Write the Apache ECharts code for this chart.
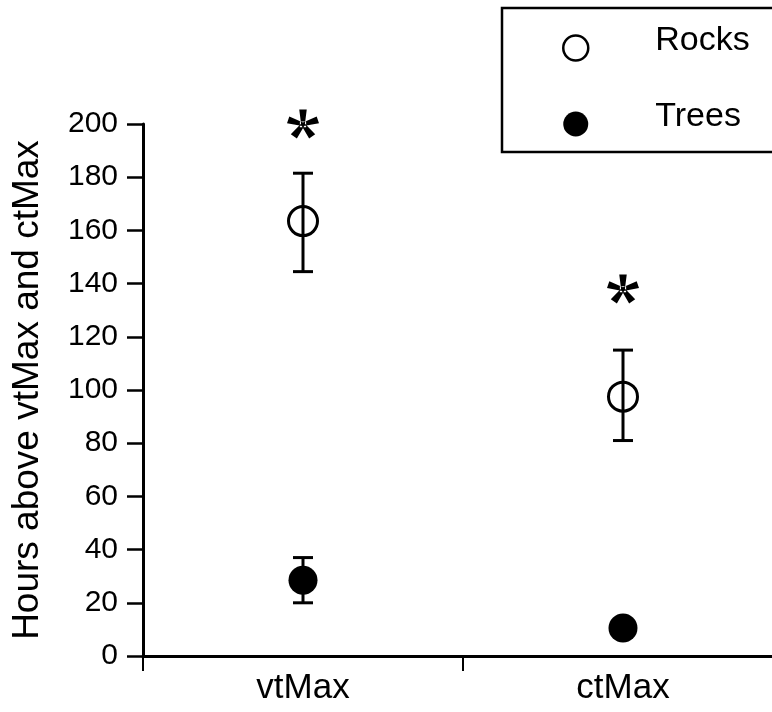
<!DOCTYPE html>
<html>
<head>
<meta charset="utf-8">
<title>Hours above vtMax and ctMax</title>
<script src="https://cdn.jsdelivr.net/npm/echarts@6/dist/echarts.min.js"></script>
<style>
  html, body { margin: 0; padding: 0; background: #fff; }
  #chart { width: 772px; height: 712px; }
</style>
</head>
<body>
<div id="chart"></div>
<script>
// Thermal limits measured per microhabitat
var categories = ['vtMax', 'ctMax'];
var yTicks = [0, 20, 40, 60, 80, 100, 120, 140, 160, 180, 200];

// Rocks: mean and error-bar ends (hours)
var rocksMean  = [163.5, 97.5];
var rocksUpper = [181.5, 115];
var rocksLower = [144.5, 81];

// Trees: mean and error-bar ends (hours)
var treesMean  = [28.5, 10.5];
var treesUpper = [37, 13];
var treesLower = [20, 8];

// Significance markers
var starValues = [200, 138];

var FONT = "'Liberation Sans', Arial, Helvetica, sans-serif";

// Five-armed asterisk outline, wedge arms widening toward the tip
function asteriskPath() {
  var cx = 50, cy = 50, len = 50, inner = 6, outer = 12;
  var d = '';
  for (var k = 0; k < 5; k++) {
    var a = (90 + k * 72) * Math.PI / 180;
    var ux = Math.cos(a), uy = -Math.sin(a);
    var px = -uy, py = ux;
    var pts = [
      [cx + px * inner, cy + py * inner],
      [cx + ux * len + px * outer, cy + uy * len + py * outer],
      [cx + ux * len - px * outer, cy + uy * len - py * outer],
      [cx - px * inner, cy - py * inner]
    ];
    d += 'M' + pts.map(function (p) { return p[0].toFixed(2) + ' ' + p[1].toFixed(2); }).join(' L') + ' Z ';
  }
  d += 'M' + (cx - 10) + ' ' + (cy - 10) + ' L' + (cx + 10) + ' ' + (cy - 10) + ' L' + (cx + 10) + ' ' + (cy + 10) + ' L' + (cx - 10) + ' ' + (cy + 10) + ' Z';
  return 'path://' + d;
}

function errorBarSeries(name, upper, lower) {
  return {
    type: 'custom',
    name: name + ' error',
    z: 3,
    silent: true,
    data: categories.map(function (c, i) { return [i, lower[i], upper[i]]; }),
    renderItem: function (params, api) {
      var x = api.value(0);
      var lo = api.coord([x, api.value(1)]);
      var hi = api.coord([x, api.value(2)]);
      var cap = 10;
      var style = { stroke: '#000', lineWidth: 3 };
      return {
        type: 'group',
        children: [
          { type: 'line', shape: { x1: lo[0], y1: lo[1], x2: hi[0], y2: hi[1] }, style: style },
          { type: 'line', shape: { x1: hi[0] - cap, y1: hi[1], x2: hi[0] + cap, y2: hi[1] }, style: style },
          { type: 'line', shape: { x1: lo[0] - cap, y1: lo[1], x2: lo[0] + cap, y2: lo[1] }, style: style }
        ]
      };
    }
  };
}

var chart = echarts.init(document.getElementById('chart'), null, { renderer: 'canvas' });

chart.setOption({
  animation: false,
  backgroundColor: '#fff',
  textStyle: { fontFamily: FONT, color: '#000' },
  grid: { left: 143, width: 640, top: 124, bottom: 56, containLabel: false, outerBoundsMode: 'none' },
  legend: {
    orient: 'vertical',
    left: 502,
    top: 8,
    padding: [16, 60, 4, 60],
    itemGap: 28,
    itemWidth: 25,
    itemHeight: 25,
    borderColor: '#000',
    borderWidth: 2.5,
    backgroundColor: '#fff',
    selectedMode: false,
    // a trailing blank line lifts the label slightly above the marker centre
    formatter: function (name) { return name + '\n '; },
    textStyle: { fontFamily: FONT, fontSize: 34, color: '#000', lineHeight: 14, padding: [0, 0, 0, 62] },
    data: [
      { name: 'Rocks', icon: 'circle', itemStyle: { color: '#fff', borderColor: '#000', borderWidth: 2.5 } },
      { name: 'Trees', icon: 'circle', itemStyle: { color: '#000', borderWidth: 0 } }
    ]
  },
  xAxis: {
    type: 'category',
    data: categories,
    boundaryGap: true,
    axisLine: { show: true, lineStyle: { color: '#000', width: 3 } },
    axisTick: { show: true, inside: false, length: 15, lineStyle: { color: '#000', width: 2 } },
    axisLabel: { fontFamily: FONT, fontSize: 35, color: '#000', margin: 15 },
    splitLine: { show: false }
  },
  yAxis: {
    type: 'value',
    min: yTicks[0],
    max: yTicks[yTicks.length - 1],
    interval: yTicks[1] - yTicks[0],
    name: 'Hours above vtMax and ctMax',
    nameLocation: 'middle',
    nameGap: 97,
    nameTextStyle: { fontFamily: FONT, fontSize: 37, color: '#000' },
    axisLine: { show: true, lineStyle: { color: '#000', width: 3 } },
    axisTick: { show: true, inside: false, length: 16, lineStyle: { color: '#000', width: 2.5 } },
    axisLabel: { fontFamily: FONT, fontSize: 30, color: '#000', margin: 25 },
    splitLine: { show: false }
  },
  series: [
    errorBarSeries('Rocks', rocksUpper, rocksLower),
    errorBarSeries('Trees', treesUpper, treesLower),
    {
      name: 'Rocks',
      type: 'scatter',
      z: 4,
      symbol: 'circle',
      symbolSize: 29,
      itemStyle: { color: 'rgba(255,255,255,0)', borderColor: '#000', borderWidth: 3, opacity: 1 },
      data: rocksMean
    },
    {
      name: 'Trees',
      type: 'scatter',
      z: 4,
      symbol: 'circle',
      symbolSize: 29,
      itemStyle: { color: '#000', opacity: 1 },
      data: treesMean
    },
    {
      name: 'significance',
      type: 'scatter',
      z: 4,
      symbol: asteriskPath(),
      symbolSize: [32, 29],
      itemStyle: { color: '#000', opacity: 1 },
      data: starValues
    }
  ]
});
</script>
</body>
</html>
